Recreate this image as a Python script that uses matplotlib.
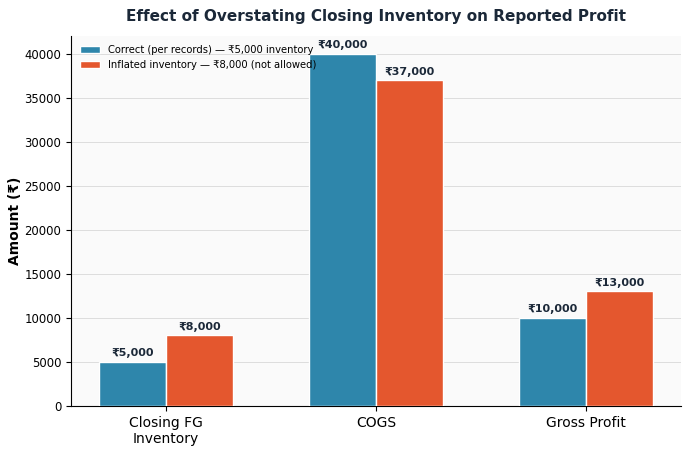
import matplotlib
matplotlib.use("Agg")
import matplotlib.pyplot as plt
import numpy as np

categories = ["Closing FG\nInventory", "COGS", "Gross Profit"]
correct_vals = [5000, 40000, 10000]
inflated_vals = [8000, 37000, 13000]
series_names = ["Correct (per records) — ₹5,000 inventory",
                "Inflated inventory — ₹8,000 (not allowed)"]
title = "Effect of Overstating Closing Inventory on Reported Profit"
ylabel = "Amount (₹)"

blue = "#2e86ab"
orange = "#e4572e"
textc = "#1b2838"

fig, ax = plt.subplots(figsize=(6.9, 4.5), dpi=100)
fig.patch.set_facecolor("white")
ax.set_facecolor("#fafafa")

x = np.arange(len(categories))
w = 0.32
b1 = ax.bar(x - w/2, correct_vals, w, color=blue, edgecolor="white", linewidth=1, label=series_names[0], zorder=3)
b2 = ax.bar(x + w/2, inflated_vals, w, color=orange, edgecolor="white", linewidth=1, label=series_names[1], zorder=3)

for bars in (b1, b2):
    for r in bars:
        h = r.get_height()
        ax.annotate(f"₹{h:,.0f}", (r.get_x() + r.get_width()/2, h),
                    xytext=(0, 2.5), textcoords="offset points",
                    ha="center", va="bottom", fontsize=8, fontweight="bold", color=textc, zorder=4)

ax.set_xticks(x)
ax.set_xticklabels(categories, fontsize=10)
ax.set_ylim(0, 42000)
ax.set_yticks(np.arange(0, 40001, 5000))
ax.tick_params(axis="y", labelsize=8.4)
ax.set_ylabel(ylabel, fontsize=10, fontweight="bold", labelpad=2)
ax.set_title(title, fontsize=11, fontweight="bold", color=textc, pad=11)
ax.grid(axis="y", color="#dddddd", linewidth=0.7, zorder=0)
ax.set_axisbelow(True)
for s in ("top", "right"):
    ax.spines[s].set_visible(False)

ax.legend(loc="upper left", frameon=False, fontsize=7.2)

fig.subplots_adjust(left=0.103, right=0.987, top=0.92, bottom=0.098)
fig.savefig("out.png", dpi=100)
